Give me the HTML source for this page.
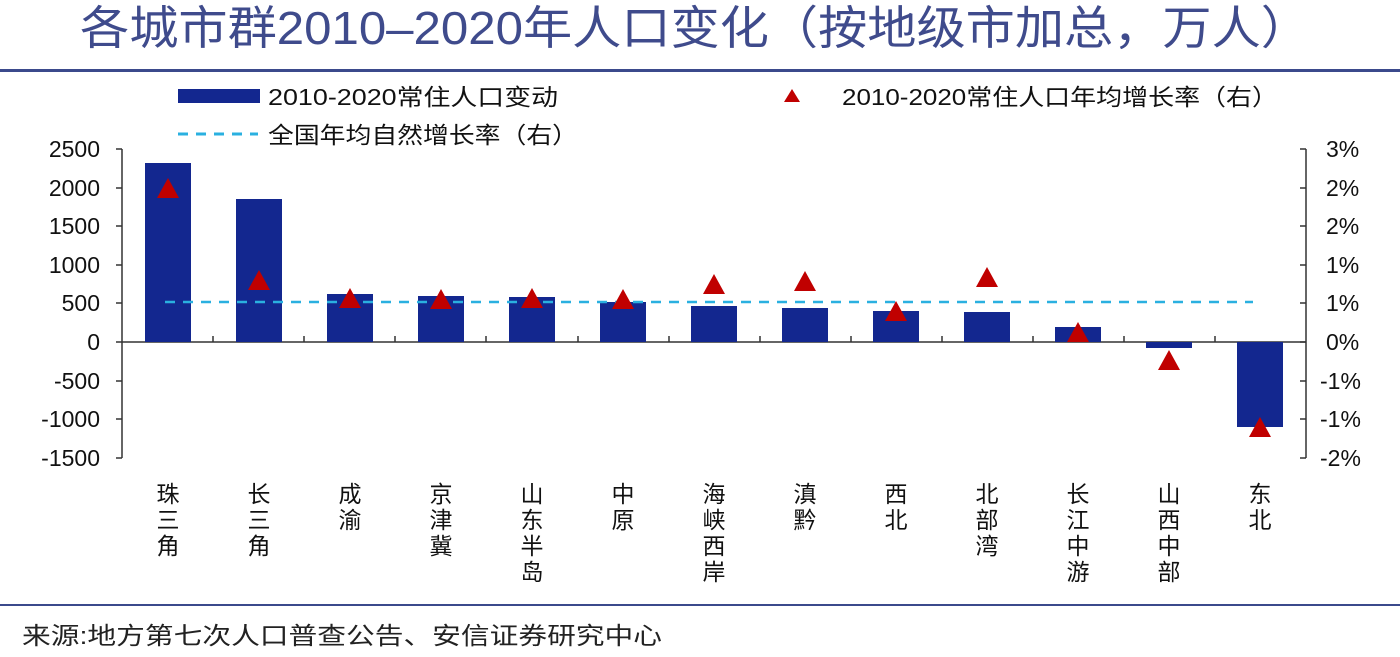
<!DOCTYPE html>
<html><head><meta charset="utf-8"><style>
body{margin:0;background:#fff;}
svg text{font-family:"Liberation Sans","Noto Sans CJK SC",sans-serif;}
</style></head><body>
<svg width="1400" height="652" xmlns="http://www.w3.org/2000/svg">
<rect width="1400" height="652" fill="#fff"/>
<text x="80" y="44" font-size="46" fill="#3f4b8c" textLength="1230" lengthAdjust="spacingAndGlyphs">各城市群2010–2020年人口变化（按地级市加总，万人）</text>
<rect x="0" y="69" width="1400" height="3" fill="#3b4a8c"/>
<rect x="0" y="604" width="1400" height="2" fill="#3b4a8c"/>
<text x="22" y="644" font-size="24" fill="#222" textLength="640" lengthAdjust="spacingAndGlyphs">来源:地方第七次人口普查公告、安信证券研究中心</text>
<!-- legend -->
<rect x="178" y="89" width="82" height="14" fill="#13278f"/>
<text x="268" y="105" font-size="23" fill="#111" textLength="290" lengthAdjust="spacingAndGlyphs">2010-2020常住人口变动</text>
<polygon points="792,89 800,102 784,102" fill="#c00000"/>
<text x="842" y="105" font-size="23" fill="#111" textLength="436" lengthAdjust="spacingAndGlyphs">2010-2020常住人口年均增长率（右）</text>
<line x1="178" y1="134" x2="258" y2="134" stroke="#2ab0e0" stroke-width="3" stroke-dasharray="10,8"/>
<text x="268" y="143" font-size="23" fill="#111" textLength="310" lengthAdjust="spacingAndGlyphs">全国年均自然增长率（右）</text>
<!-- axes -->
<g stroke="#333" stroke-width="1.5" fill="none">
<line x1="122" y1="149" x2="122" y2="458"/>
<line x1="1306" y1="149" x2="1306" y2="458"/>
<line x1="122" y1="342" x2="1306" y2="342"/>
</g>
<g font-size="23" fill="#111" text-anchor="end">
<text x="100" y="157">2500</text><text x="100" y="196">2000</text><text x="100" y="234">1500</text><text x="100" y="273">1000</text><text x="100" y="311">500</text><text x="100" y="350">0</text><text x="100" y="389">-500</text><text x="100" y="427">-1000</text><text x="100" y="466">-1500</text>
</g>
<g font-size="23" fill="#111">
<text x="1326" y="157">3%</text><text x="1326" y="196">2%</text><text x="1326" y="234">2%</text><text x="1326" y="273">1%</text><text x="1326" y="311">1%</text><text x="1326" y="350">0%</text><text x="1320" y="389">-1%</text><text x="1320" y="427">-1%</text><text x="1320" y="466">-2%</text>
</g>
<g stroke="#333" stroke-width="1.5">
<line x1="116" y1="149" x2="122" y2="149"/><line x1="116" y1="188" x2="122" y2="188"/><line x1="116" y1="226" x2="122" y2="226"/><line x1="116" y1="265" x2="122" y2="265"/><line x1="116" y1="303" x2="122" y2="303"/><line x1="116" y1="342" x2="122" y2="342"/><line x1="116" y1="381" x2="122" y2="381"/><line x1="116" y1="419" x2="122" y2="419"/><line x1="116" y1="458" x2="122" y2="458"/>
<line x1="1300" y1="149" x2="1306" y2="149"/><line x1="1300" y1="188" x2="1306" y2="188"/><line x1="1300" y1="226" x2="1306" y2="226"/><line x1="1300" y1="265" x2="1306" y2="265"/><line x1="1300" y1="303" x2="1306" y2="303"/><line x1="1300" y1="342" x2="1306" y2="342"/><line x1="1300" y1="381" x2="1306" y2="381"/><line x1="1300" y1="419" x2="1306" y2="419"/><line x1="1300" y1="458" x2="1306" y2="458"/>
<line x1="213" y1="336" x2="213" y2="342"/><line x1="304" y1="336" x2="304" y2="342"/><line x1="395" y1="336" x2="395" y2="342"/><line x1="486" y1="336" x2="486" y2="342"/><line x1="578" y1="336" x2="578" y2="342"/><line x1="669" y1="336" x2="669" y2="342"/><line x1="760" y1="336" x2="760" y2="342"/><line x1="851" y1="336" x2="851" y2="342"/><line x1="942" y1="336" x2="942" y2="342"/><line x1="1033" y1="336" x2="1033" y2="342"/><line x1="1124" y1="336" x2="1124" y2="342"/><line x1="1215" y1="336" x2="1215" y2="342"/>
</g>
<!-- bars -->
<g fill="#13278f">
<rect x="145" y="163" width="46" height="179"/>
<rect x="236" y="199" width="46" height="143"/>
<rect x="327" y="294" width="46" height="48"/>
<rect x="418" y="296" width="46" height="46"/>
<rect x="509" y="297" width="46" height="45"/>
<rect x="600" y="302" width="46" height="40"/>
<rect x="691" y="306" width="46" height="36"/>
<rect x="782" y="308" width="46" height="34"/>
<rect x="873" y="311" width="46" height="31"/>
<rect x="964" y="312" width="46" height="30"/>
<rect x="1055" y="327" width="46" height="15"/>
<rect x="1146" y="342" width="46" height="6"/>
<rect x="1237" y="342" width="46" height="85"/>
</g>
<line x1="165" y1="302" x2="1253" y2="302" stroke="#2ab0e0" stroke-width="2.5" stroke-dasharray="10,8"/>
<g fill="#c00000">
<polygon points="168,178 179,198 157,198"/>
<polygon points="259,270 270,290 248,290"/>
<polygon points="350,288 361,308 339,308"/>
<polygon points="441,289 452,309 430,309"/>
<polygon points="532,288 543,308 521,308"/>
<polygon points="623,289 634,309 612,309"/>
<polygon points="714,274 725,294 703,294"/>
<polygon points="805,271 816,291 794,291"/>
<polygon points="896,301 907,321 885,321"/>
<polygon points="987,267 998,287 976,287"/>
<polygon points="1078,322 1089,342 1067,342"/>
<polygon points="1169,350 1180,370 1158,370"/>
<polygon points="1260,417 1271,437 1249,437"/>
</g>
<g font-size="23" fill="#111" text-anchor="middle">
<text x="168" y="502">珠</text><text x="168" y="528">三</text><text x="168" y="554">角</text>
<text x="259" y="502">长</text><text x="259" y="528">三</text><text x="259" y="554">角</text>
<text x="350" y="502">成</text><text x="350" y="528">渝</text>
<text x="441" y="502">京</text><text x="441" y="528">津</text><text x="441" y="554">冀</text>
<text x="532" y="502">山</text><text x="532" y="528">东</text><text x="532" y="554">半</text><text x="532" y="580">岛</text>
<text x="623" y="502">中</text><text x="623" y="528">原</text>
<text x="714" y="502">海</text><text x="714" y="528">峡</text><text x="714" y="554">西</text><text x="714" y="580">岸</text>
<text x="805" y="502">滇</text><text x="805" y="528">黔</text>
<text x="896" y="502">西</text><text x="896" y="528">北</text>
<text x="987" y="502">北</text><text x="987" y="528">部</text><text x="987" y="554">湾</text>
<text x="1078" y="502">长</text><text x="1078" y="528">江</text><text x="1078" y="554">中</text><text x="1078" y="580">游</text>
<text x="1169" y="502">山</text><text x="1169" y="528">西</text><text x="1169" y="554">中</text><text x="1169" y="580">部</text>
<text x="1260" y="502">东</text><text x="1260" y="528">北</text>
</g>
</svg>
</body></html>
